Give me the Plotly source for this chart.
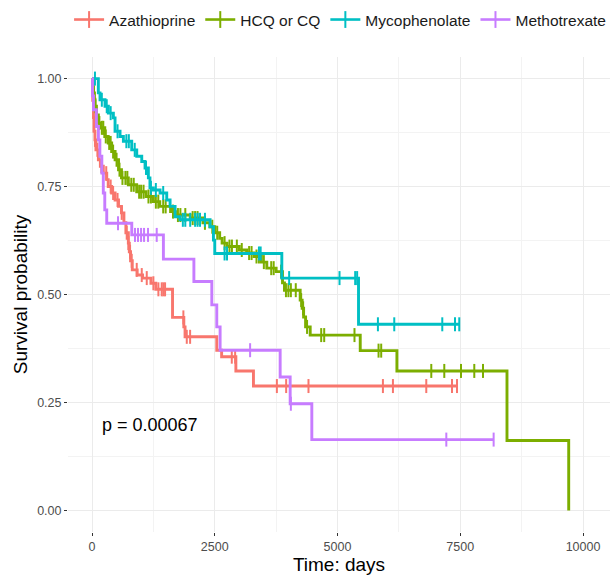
import plotly.graph_objects as go

# ---------------- data ----------------
groups = ["Azathioprine", "HCQ or CQ", "Mycophenolate", "Methotrexate"]
colors = ["#F8766D", "#7CAE00", "#00BFC4", "#C77CFF"]

aza_t = [15, 30, 40, 60, 80, 130, 170, 230, 300, 330, 400, 470, 540, 600, 650, 690, 740, 760, 785, 820, 920, 1030, 1200, 1300, 1640, 1870, 1895, 2541, 2640, 2930, 3288]
aza_s = [0.95, 0.91, 0.878, 0.858, 0.835, 0.812, 0.797, 0.781, 0.766, 0.750, 0.735, 0.719, 0.704, 0.689, 0.666, 0.643, 0.619, 0.599, 0.578, 0.557, 0.545, 0.538, 0.526, 0.512, 0.447, 0.425, 0.402, 0.371, 0.356, 0.323, 0.288]
aza_end = 7434
aza_cens = [60, 110, 190, 290, 380, 430, 520, 605, 707, 740, 775, 809, 911, 1013, 1115, 1250, 1352, 1420, 1454, 1488, 1861, 1930, 1998, 2847, 2915, 3765, 3954, 4409, 5925, 6129, 6808, 7332, 7434]

hcq_t = [10, 25, 50, 60, 90, 130, 160, 260, 330, 400, 470, 540, 600, 740, 910, 1100, 1250, 1380, 1600, 1700, 2000, 2260, 2400, 2500, 2600, 2650, 2750, 3000, 3150, 3300, 3450, 3560, 3750, 3880, 3920, 4240, 4280, 4310, 4350, 4444, 5463, 6210, 8452, 9709]
hcq_s = [0.985, 0.967, 0.952, 0.936, 0.916, 0.897, 0.886, 0.866, 0.851, 0.831, 0.812, 0.789, 0.770, 0.754, 0.738, 0.727, 0.715, 0.704, 0.692, 0.684, 0.677, 0.666, 0.657, 0.643, 0.630, 0.619, 0.611, 0.603, 0.596, 0.588, 0.575, 0.561, 0.553, 0.527, 0.510, 0.487, 0.468, 0.448, 0.425, 0.406, 0.370, 0.323, 0.162, 0.0]
hcq_end = 9709
hcq_cens = [40, 70, 100, 150, 200, 230, 280, 350, 380, 430, 500, 560, 620, 680, 720, 800, 850, 960, 1000, 1050, 1150, 1200, 1300, 1350, 1450, 1500, 1650, 1750, 1800, 1900, 2050, 2100, 2150, 2300, 2450, 2550, 2700, 2800, 2850, 2950, 3050, 3200, 3250, 3350, 3400, 3500, 3650, 3700, 3850, 3950, 4000, 4050, 4150, 4260, 4300, 4380, 4668, 4729, 5346, 5836, 5890, 6910, 7175, 7515, 7786, 7963]

myc_t = [129, 163, 265, 333, 435, 469, 571, 639, 809, 911, 1013, 1080, 1148, 1180, 1250, 1386, 1522, 1590, 1692, 1794, 2405, 2473, 2500, 3866, 5428]
myc_s = [0.967, 0.951, 0.936, 0.920, 0.909, 0.878, 0.866, 0.855, 0.835, 0.820, 0.808, 0.793, 0.770, 0.747, 0.742, 0.735, 0.719, 0.704, 0.680, 0.673, 0.657, 0.626, 0.595, 0.538, 0.431]
myc_end = 7480
myc_cens = [60, 200, 300, 380, 520, 700, 750, 870, 1100, 1200, 1300, 1450, 1850, 1900, 2000, 2100, 2150, 2200, 2300, 2700, 2750, 3400, 3435, 4015, 5041, 5360, 5400, 5823, 6156, 7134, 7393, 7480]

mtx_t = [10, 30, 90, 130, 160, 200, 230, 260, 300, 810, 1454, 2075, 2440, 2541, 2609, 3832, 4036, 4477]
mtx_s = [0.96, 0.928, 0.889, 0.858, 0.820, 0.781, 0.735, 0.696, 0.665, 0.638, 0.582, 0.530, 0.476, 0.425, 0.371, 0.309, 0.247, 0.164]
mtx_end = 8180
mtx_cens = [530, 876, 937, 999, 1060, 1141, 1318, 3220, 4050, 7216, 8180]

p_label = "p = 0.00067"
x_ticks = [0, 2500, 5000, 7500, 10000]
y_ticks = [0.0, 0.25, 0.5, 0.75, 1.0]
y_tick_text = ["0.00", "0.25", "0.50", "0.75", "1.00"]

series = [
    (aza_t, aza_s, aza_end, aza_cens),
    (hcq_t, hcq_s, hcq_end, hcq_cens),
    (myc_t, myc_s, myc_end, myc_cens),
    (mtx_t, mtx_s, mtx_end, mtx_cens),
]


def surv_at(times, surv, t):
    s = 1.0
    for ti, si in zip(times, surv):
        if ti <= t:
            s = si
        else:
            break
    return s


fig = go.Figure()
for name, col, (tt, ss, end, cens) in zip(groups, colors, series):
    xs = [0] + list(tt)
    ys = [1.0] + list(ss)
    if end > xs[-1]:
        xs.append(end)
        ys.append(ys[-1])
    fig.add_trace(go.Scatter(x=xs, y=ys, mode="lines", line=dict(color=col, width=2.9, shape="hv"),
                             legendgroup=name, showlegend=False, hoverinfo="skip"))
    fig.add_trace(go.Scatter(x=cens, y=[surv_at(tt, ss, c) for c in cens], mode="markers",
                             marker=dict(symbol="line-ns-open", size=10, color=col,
                                         line=dict(color=col, width=2)),
                             legendgroup=name, showlegend=False, hoverinfo="skip"))
    fig.add_trace(go.Scatter(x=[None], y=[None], mode="lines+markers", name=name,
                             line=dict(color=col, width=2.6),
                             marker=dict(symbol="line-ns-open", size=12, color=col,
                                         line=dict(color=col, width=2)),
                             legendgroup=name))

fig.add_annotation(x=163, y=0.197, xref="x", yref="y", text=p_label, showarrow=False,
                   xanchor="left", yanchor="middle", font=dict(size=18, color="#000000"))

grid = "#EBEBEB"
fig.update_layout(
    width=611, height=577,
    margin=dict(l=68, r=1, t=57, b=45, autoexpand=False),
    paper_bgcolor="white", plot_bgcolor="white",
    font=dict(family="Liberation Sans, Arial, sans-serif", color="#1A1A1A"),
    showlegend=True,
    legend=dict(orientation="h", x=0.502, xanchor="center", y=1.078, yanchor="middle",
                font=dict(size=15.5, color="#1A1A1A"), itemwidth=30, tracegroupgap=0),
    xaxis=dict(range=[-489, 10550], tickvals=x_ticks, ticktext=[str(v) for v in x_ticks],
               automargin=False,
               showgrid=True, gridcolor=grid, gridwidth=1.1, zeroline=False, showline=False,
               ticks="outside", ticklen=3, tickwidth=1.1, tickcolor="#333333",
               tickfont=dict(size=12.5, color="#4D4D4D"),
               minor=dict(dtick=1250, tick0=0, showgrid=True, gridcolor="#F3F3F3", gridwidth=0.6),
               title=dict(text="Time: days", font=dict(size=19, color="#000000"), standoff=3)),
    yaxis=dict(range=[-0.05, 1.05], tickvals=y_ticks, ticktext=y_tick_text,
               automargin=False,
               showgrid=True, gridcolor=grid, gridwidth=1.1, zeroline=False, showline=False,
               ticks="outside", ticklen=3, tickwidth=1.1, tickcolor="#333333",
               tickfont=dict(size=12.5, color="#4D4D4D"),
               minor=dict(dtick=0.125, tick0=0, showgrid=True, gridcolor="#F3F3F3", gridwidth=0.6),
               title=dict(text="Survival probability", font=dict(size=19, color="#000000"), standoff=4)),
)

# remove the browser's default 8px page margin so the figure sits at the window origin
fig.write_html("out.html", config={"displayModeBar": False},
               post_script="document.body.style.margin='0';")
